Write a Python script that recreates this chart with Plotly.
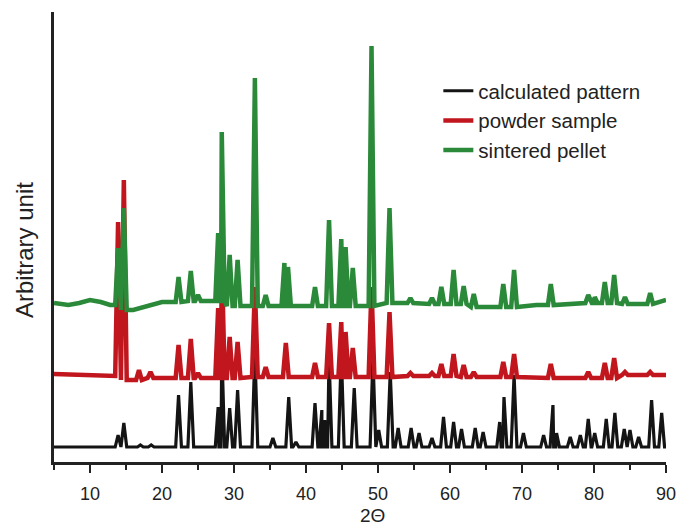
import plotly.graph_objects as go

# ---------------- data (2-theta in degrees, intensity in arbitrary units) ----------------
series_names = ["calculated pattern", "powder sample", "sintered pellet"]

# calculated pattern
calc_peak_2theta = [13.9, 14.7, 17.0, 18.5, 22.3, 24.0, 27.8, 28.3, 29.4, 30.5, 32.9, 35.4, 37.6,
                    38.6, 41.25, 42.2, 42.6, 43.2, 44.9, 46.7, 49.3, 50.1, 51.7, 52.8, 54.6, 55.7,
                    57.5, 59.1, 60.5, 61.6, 63.5, 64.6, 66.9, 67.5, 68.9, 70.2, 73.0, 74.3, 74.8,
                    76.7, 78.1, 79.2, 80.1, 81.7, 82.9, 84.2, 85.0, 86.2, 88.0, 89.4]
calc_peak_intensity = [27, 39, 17, 17, 67, 80, 55, 115, 54, 72, 110, 24, 65,
                       20, 59, 52, 42, 105, 110, 74, 105, 32, 90, 34, 34, 29,
                       24, 45, 40, 33, 34, 30, 40, 65, 87, 29, 27, 57, 29,
                       25, 27, 43, 29, 43, 49, 33, 32, 25, 62, 49]
calc_base_2theta = [5, 90]
calc_base_level = [15, 15]

# powder sample
powder_peak_2theta = [13.9, 14.7, 16.8, 18.4, 22.3, 24.0, 25.0, 27.8, 28.3, 29.4, 30.5, 32.9, 34.4,
                      37.2, 41.25, 43.2, 44.9, 45.5, 46.5, 49.1, 51.6, 54.5, 57.5, 58.8, 60.5,
                      61.9, 63.3, 67.4, 68.9, 74.0, 79.2, 81.5, 82.8, 84.3, 87.8]
powder_peak_intensity = [240, 282, 92, 90, 117, 123, 89, 154, 205, 125, 120, 175, 95,
                         119, 99, 139, 140, 130, 114, 175, 150, 89, 89, 98, 108,
                         97, 90, 100, 108, 98, 90, 99, 104, 90, 90]
powder_base_2theta = [5, 12, 16, 20, 26, 35, 48, 56, 66, 78, 90]
powder_base_level = [88, 86, 82, 84, 84, 85, 85, 86, 85, 84, 87]

# sintered pellet
pellet_peak_2theta = [13.9, 14.7, 22.3, 24.0, 25.0, 27.8, 28.3, 29.4, 30.5, 32.9, 34.4, 37.0,
                      37.5, 41.25, 43.2, 44.9, 45.5, 46.5, 49.1, 51.6, 54.5, 57.5, 58.8, 60.5,
                      61.9, 63.3, 67.4, 68.9, 74.0, 79.2, 80.1, 81.5, 82.8, 84.3, 87.8]
pellet_peak_intensity = [214, 254, 185, 191, 167, 229, 330, 207, 202, 384, 167, 199,
                         195, 175, 242, 223, 215, 194, 416, 254, 164, 164, 175, 192,
                         176, 168, 178, 192, 178, 167, 165, 180, 187, 165, 169]
pellet_base_2theta = [5, 7, 8.5, 10, 11.5, 12.8, 16, 20, 26, 32, 40, 48, 54, 60, 66, 72, 80, 86, 90]
pellet_base_level = [159, 157, 159, 162, 160, 157, 152, 160, 161, 156, 156, 156, 159, 158, 155, 157, 159, 158, 162]

x_title = "2Θ"
y_title = "Arbitrary unit"

colors = ["#141414", "#c1161d", "#2b8a39"]
widths = [3.2, 4.5, 4.5]
foot = 0.4  # half-width of a peak foot (deg)


def pattern(peaks, heights, base_x, base_y):
    pts = list(zip(base_x, base_y))
    for p, h in zip(peaks, heights):
        # baseline level at the peak from nearest baseline reading
        b = min(zip(base_x, base_y), key=lambda t: abs(t[0] - p))[1]
        pts += [(p - foot, b), (p, h), (p + foot, b)]
    pts.sort(key=lambda t: t[0])
    return [t[0] for t in pts], [t[1] for t in pts]


data_sets = [
    (calc_peak_2theta, calc_peak_intensity, calc_base_2theta, calc_base_level),
    (powder_peak_2theta, powder_peak_intensity, powder_base_2theta, powder_base_level),
    (pellet_peak_2theta, pellet_peak_intensity, pellet_base_2theta, pellet_base_level),
]

fig = go.Figure()
for name, col, w, ds in zip(series_names, colors, widths, data_sets):
    x, y = pattern(*ds)
    fig.add_trace(go.Scatter(x=x, y=y, mode="lines", name=name,
                             line=dict(color=col, width=w, shape="linear")))

font_family = "Liberation Sans, Arial, Helvetica, sans-serif"
fig.update_layout(
    width=678, height=526,
    margin=dict(l=54, r=12, t=12, b=64),
    paper_bgcolor="white", plot_bgcolor="white",
    font=dict(family=font_family, color="#222222", size=18),
    showlegend=True,
    legend=dict(x=0.628, y=0.869, xanchor="left", yanchor="top",
                bgcolor="rgba(0,0,0,0)", font=dict(size=20.5, color="#222222"),
                itemwidth=30, tracegroupgap=0),
    xaxis=dict(range=[5, 90], tick0=0, dtick=10, ticks="outside", ticklen=8, tickwidth=2,
               tickcolor="#222222", showline=True, linewidth=2.5, linecolor="#222222",
               showgrid=False, zeroline=False, tickfont=dict(size=18),
               ticklabelstandoff=6, automargin=False,
               minor=dict(dtick=5, tick0=0, ticks="outside", ticklen=5, tickwidth=2,
                          tickcolor="#222222", showgrid=False)),
    yaxis=dict(range=[0, 450], showline=True, linewidth=2.5, linecolor="#222222",
               showgrid=False, zeroline=False, showticklabels=False, ticks="",
               automargin=False),
    annotations=[
        dict(text=y_title, textangle=-90, xref="paper", yref="paper",
             x=-0.048, y=0.47, xanchor="center", yanchor="middle", showarrow=False,
             font=dict(size=24, color="#222222")),
        dict(text=x_title, xref="paper", yref="paper",
             x=0.52, y=-0.118, xanchor="center", yanchor="middle", showarrow=False,
             font=dict(size=19, color="#222222")),
    ],
)

fig.write_html("out.html")
